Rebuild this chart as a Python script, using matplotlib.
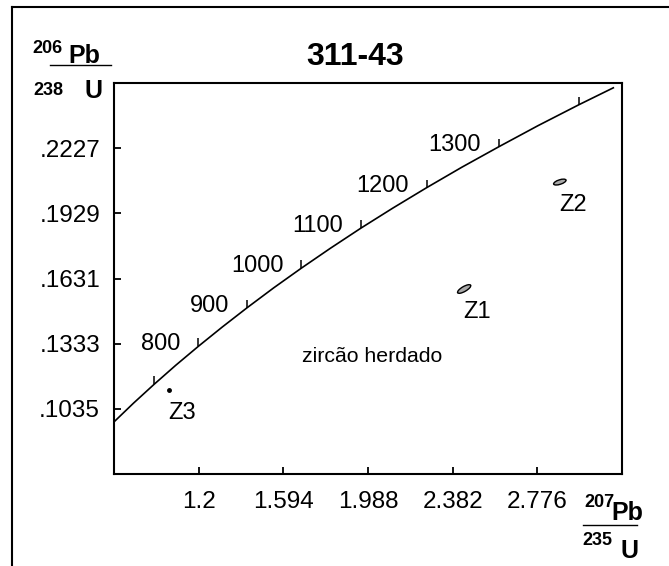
import matplotlib
matplotlib.use("Agg")
import matplotlib.pyplot as plt
from matplotlib.lines import Line2D
from matplotlib.patches import Ellipse
from matplotlib.transforms import ScaledTranslation

plt.rcParams['font.family'] = ['Liberation Sans', 'DejaVu Sans']

# concordia curve (ages in Ma)
curve_age = [600, 650, 700, 750, 800, 850, 900, 950, 1000, 1050, 1100,
             1150, 1200, 1250, 1300, 1350, 1400, 1440]
curve_x = [0.8057, 0.8968, 0.9925, 1.0931, 1.1987, 1.3097, 1.4263, 1.5488,
           1.6774, 1.8126, 1.9545, 2.1036, 2.2603, 2.4249, 2.5977, 2.7793,
           2.9701, 3.1296]
curve_y = [0.0975, 0.1061, 0.1147, 0.1234, 0.1321, 0.1409, 0.1498, 0.1588,
           0.1678, 0.1769, 0.1861, 0.1953, 0.2046, 0.2140, 0.2234, 0.2330,
           0.2426, 0.2503]

tick_ages = [700, 800, 900, 1000, 1100, 1200, 1300, 1400]
label_ages = [800, 900, 1000, 1100, 1200, 1300]

# zircon analyses
zircon_names = ['Z1', 'Z2', 'Z3']
zircon_x = [2.4355, 2.8807, 1.0605]
zircon_y = [0.1583, 0.2072, 0.1122]

x_ticks = [1.2, 1.594, 1.988, 2.382, 2.776]
x_labels = ['1.2', '1.594', '1.988', '2.382', '2.776']
y_ticks = [0.1035, 0.1333, 0.1631, 0.1929, 0.2227]
y_labels = ['.1035', '.1333', '.1631', '.1929', '.2227']

W, H = 669, 566


def px(x, y):
    return x / W, 1 - y / H


fig = plt.figure(figsize=(W / 100, H / 100), dpi=100)
ax = fig.add_axes([114 / W, 1 - 474 / H, (622 - 114) / W, (474 - 83) / H])
ax.set_xlim(0.806, 3.170)
ax.set_ylim(0.0737, 0.2525)

ax.plot(curve_x, curve_y, color='black', lw=1.2)

# age marks on the curve
tx = [curve_x[curve_age.index(a)] for a in tick_ages]
ty = [curve_y[curve_age.index(a)] for a in tick_ages]
ax.plot(tx, ty, linestyle='none', marker=[(0, 0), (0, 1)], markersize=12,
        markeredgewidth=1.1, color='black')
for a in label_ages:
    i = curve_age.index(a)
    ax.annotate(str(a), (curve_x[i], curve_y[i]), xytext=(-18, 2),
                textcoords='offset pixels', ha='right', va='center', fontsize=17)

# error ellipses (sizes in inches)
ell_sizes = [(0.15, 0.05, 30), (0.13, 0.045, 18)]
for i, (w, h, ang) in enumerate(ell_sizes):
    tr = fig.dpi_scale_trans + ScaledTranslation(zircon_x[i], zircon_y[i], ax.transData)
    ax.add_patch(Ellipse((0, 0), w, h, angle=ang, transform=tr,
                         facecolor='#a8a8a8', edgecolor='black', lw=1))
ax.plot(zircon_x[2], zircon_y[2], 'o', color='black', markersize=2.5)

for name, x, y in zip(zircon_names, zircon_x, zircon_y):
    ax.annotate(name, (x, y), xytext=(13, -23), textcoords='offset pixels',
                ha='center', va='center', fontsize=17)

ax.text(1.679, 0.1251, 'zircão herdado', fontsize=15.3, ha='left', va='baseline')

ax.set_xticks(x_ticks, x_labels)
ax.set_yticks(y_ticks, y_labels)
ax.tick_params(direction='in', length=5, width=1.3, labelsize=17.5)
ax.tick_params(axis='x', pad=12)
ax.tick_params(axis='y', pad=10)
for s in ax.spines.values():
    s.set_linewidth(1.5)

# title and fraction axis labels
fig.text(*px(355, 65), '311-43', fontsize=23, fontweight='bold',
         ha='center', va='baseline')

fig.text(*px(32, 53), '206', fontsize=13, fontweight='bold', va='baseline')
fig.text(*px(68, 63), 'Pb', fontsize=18, fontweight='bold', va='baseline')
fig.add_artist(Line2D([50 / W, 111 / W], [1 - 64.5 / H] * 2, color='black', lw=1))
fig.text(*px(33, 95), '238', fontsize=13, fontweight='bold', va='baseline')
fig.text(*px(85, 98), 'U', fontsize=18, fontweight='bold', va='baseline')

fig.text(*px(584, 507), '207', fontsize=13, fontweight='bold', va='baseline')
fig.text(*px(611, 520), 'Pb', fontsize=18, fontweight='bold', va='baseline')
fig.add_artist(Line2D([583 / W, 637 / W], [1 - 525 / H] * 2, color='black', lw=1))
fig.text(*px(582, 545), '235', fontsize=13, fontweight='bold', va='baseline')
fig.text(*px(620, 558), 'U', fontsize=18, fontweight='bold', va='baseline')

# outer frame (top and left edges)
fig.add_artist(Line2D([12 / W, 1], [1 - 7 / H] * 2, color='black', lw=1.5))
fig.add_artist(Line2D([12 / W, 12 / W], [0, 1 - 7 / H], color='black', lw=1.5))

fig.savefig('out.png', dpi=100)
